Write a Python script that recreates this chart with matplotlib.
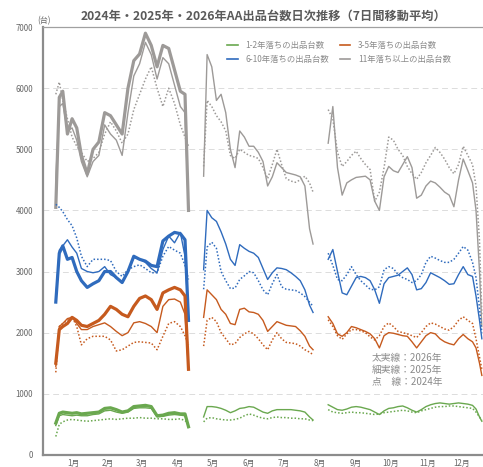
import matplotlib
matplotlib.use('Agg')

import matplotlib.pyplot as plt
from matplotlib.lines import Line2D

plt.rcParams['font.family'] = ['Noto Sans CJK JP', 'DejaVu Sans']

# days of year for each block (gaps: GW, Obon)
days_s1 = [0, 3, 6, 10, 14, 18, 22, 27, 32, 37, 42, 47, 52, 57, 62, 67, 72, 77, 82, 87, 92, 97, 102, 107, 111, 114]
days_s2 = [127, 130, 134, 138, 142, 146, 150, 154, 158, 162, 166, 170, 174, 178, 182, 186, 190, 194, 198, 202, 206, 210, 214, 218, 221]
days_s3 = [234, 238, 242, 246, 250, 254, 258, 262, 266, 270, 274, 278, 282, 286, 290, 294, 298, 302, 306, 310, 314, 318,
           322, 326, 330, 334, 338, 342, 346, 350, 354, 358, 361, 364, 366]

# 11年落ち以上 (gray)
gray_2026_s1 = [4050, 5850, 5950, 5250, 5500, 5350, 4900, 4600, 5000, 5120, 5600, 5550, 5400, 5250, 6000, 6450, 6560, 6900, 6700, 6350, 6700, 6650, 6300, 5950, 5900, 4000]
gray_2025_s1 = [4500, 5700, 5750, 5300, 5350, 5150, 4800, 4550, 4800, 4900, 5400, 5250, 5150, 4900, 5600, 6200, 6400, 6750, 6550, 6150, 6500, 6400, 6050, 5700, 5600, 4000]
gray_2024_s1 = [5900, 6100, 5800, 5500, 5200, 5050, 4950, 4800, 4850, 4950, 5250, 5450, 5300, 5100, 5250, 5650, 5900, 6150, 6350, 6000, 5700, 6000, 5750, 5400, 5200, 5050]
gray_2025_s2 = [4560, 6550, 6350, 5800, 5900, 5600, 5000, 4700, 5300, 5200, 5050, 5050, 4950, 4800, 4400, 4550, 4780, 4700, 4620, 4600, 4580, 4550, 4400, 3700, 3450]
gray_2024_s2 = [4720, 5800, 5700, 5550, 5450, 5300, 4900, 4850, 5000, 4950, 4900, 4880, 4850, 4700, 4520, 4750, 5000, 4750, 4520, 4480, 4460, 4500, 4560, 4450, 4300]
gray_2025_s3 = [5100, 5700, 4700, 4250, 4450, 4500, 4540, 4550, 4560, 4500, 4150, 4000, 4550, 4720, 4650, 4620, 4750, 4880, 4700, 4200, 4250, 4400,
                4480, 4450, 4380, 4300, 4250, 4060, 4500, 4840, 4650, 4450, 4000, 3000, 2100]
gray_2024_s3 = [5650, 5500, 4950, 4720, 4800, 4900, 4970, 4850, 4750, 4670, 4150, 4300, 4700, 5200, 5150, 5000, 4900, 4720, 4600, 4510, 4620, 4780,
                4900, 5030, 4950, 4840, 4700, 4600, 4750, 5050, 4900, 4750, 4400, 3500, 2300]

# 6-10年落ち (blue)
blue_2026_s1 = [2500, 3300, 3420, 3200, 3230, 3000, 2850, 2740, 2800, 2850, 3000, 3000, 2900, 2820, 3000, 3250, 3200, 3170, 3100, 3080, 3500, 3580, 3640, 3620, 3520, 2200]
blue_2025_s1 = [2550, 3350, 3420, 3520, 3400, 3300, 3050, 3000, 2980, 3000, 3080, 2950, 2900, 2820, 3000, 3230, 3200, 3150, 3050, 2980, 3360, 3580, 3470, 3640, 3250, 2260]
blue_2024_s1 = [4100, 4050, 3980, 3850, 3750, 3550, 3250, 3080, 3200, 3200, 3200, 3180, 3000, 2920, 3030, 3080, 3110, 3050, 2980, 2980, 3250, 3410, 3350, 3300, 3100, 2870]
blue_2025_s2 = [3030, 4000, 3880, 3820, 3650, 3450, 3200, 3100, 3440, 3380, 3330, 3300, 3230, 3050, 2870, 2980, 3060, 3050, 3030, 2980, 2920, 2850, 2700, 2450, 2330]
blue_2024_s2 = [2710, 3400, 3480, 3380, 3000, 2850, 2720, 2730, 2870, 2930, 3000, 2980, 2850, 2700, 2620, 2800, 2950, 2750, 2710, 2700, 2690, 2650, 2590, 2500, 2430]
blue_2025_s3 = [3200, 3360, 3000, 2650, 2620, 2760, 2900, 2920, 2900, 2850, 2700, 2480, 2800, 2900, 2920, 2940, 3000, 3060, 2950, 2700, 2720, 2820,
                2980, 2940, 2900, 2850, 2790, 2800, 2950, 3080, 2950, 2920, 2600, 2200, 1900]
blue_2024_s3 = [3300, 3100, 2870, 2850, 2950, 3080, 2950, 2850, 2780, 2710, 2700, 2750, 3030, 3080, 3050, 2950, 2900, 2870, 2820, 2850, 2950, 3150,
                3250, 3220, 3180, 3150, 3150, 3200, 3300, 3410, 3350, 3150, 2900, 2400, 2000]

# 3-5年落ち (orange)
orange_2026_s1 = [1500, 2050, 2100, 2150, 2250, 2200, 2120, 2100, 2150, 2200, 2300, 2430, 2380, 2300, 2260, 2430, 2560, 2600, 2540, 2380, 2650, 2700, 2740, 2700, 2600, 1400]
orange_2025_s1 = [1450, 2100, 2150, 2230, 2250, 2150, 2050, 2050, 2100, 2130, 2160, 2100, 2020, 1950, 2000, 2160, 2180, 2150, 2100, 2000, 2430, 2540, 2550, 2500, 2300, 1400]
orange_2024_s1 = [1350, 2100, 2150, 2200, 2260, 2100, 1800, 1900, 1940, 1940, 1940, 1880, 1700, 1720, 1780, 1840, 1850, 1840, 1830, 1720, 1940, 2150, 2180, 2100, 1950, 1800]
orange_2025_s2 = [2250, 2700, 2620, 2540, 2380, 2300, 2150, 2130, 2380, 2400, 2340, 2330, 2300, 2200, 2020, 2100, 2180, 2150, 2120, 2110, 2100, 2030, 1940, 1780, 1720]
orange_2024_s2 = [1780, 2200, 2250, 2180, 2000, 1900, 1800, 1820, 1920, 1980, 2020, 1980, 1900, 1800, 1720, 1880, 2000, 1900, 1840, 1830, 1820, 1780, 1720, 1680, 1640]
orange_2025_s3 = [2260, 2150, 1980, 1940, 2000, 2100, 2080, 2050, 2020, 1980, 1900, 1750, 1950, 2000, 1990, 1970, 1950, 1940, 1850, 1750, 1850, 1950,
                  2000, 1980, 1900, 1850, 1820, 1800, 1900, 1970, 1900, 1850, 1750, 1500, 1300]
orange_2024_s3 = [2210, 2100, 1950, 1890, 1980, 2050, 2050, 2030, 2000, 1930, 1880, 1950, 2100, 2160, 2100, 2020, 2000, 1980, 1950, 1920, 2000, 2100,
                  2160, 2140, 2100, 2060, 2040, 2100, 2200, 2260, 2200, 2150, 1900, 1600, 1400]

# 1-2年落ち (green)
green_2026_s1 = [520, 680, 700, 690, 680, 690, 670, 680, 690, 700, 760, 770, 740, 700, 720, 790, 800, 810, 790, 640, 650, 680, 690, 670, 670, 460]
green_2025_s1 = [480, 640, 660, 650, 640, 650, 640, 640, 660, 670, 720, 730, 700, 680, 700, 760, 770, 770, 760, 620, 630, 650, 660, 650, 640, 450]
green_2024_s1 = [300, 500, 540, 570, 580, 570, 560, 550, 560, 570, 580, 590, 580, 590, 600, 600, 610, 600, 600, 590, 590, 580, 580, 590, 560, 520]
green_2025_s2 = [620, 790, 790, 780, 760, 730, 690, 720, 760, 770, 790, 780, 740, 700, 680, 720, 740, 740, 740, 740, 730, 720, 700, 620, 570]
green_2024_s2 = [540, 600, 610, 590, 580, 570, 570, 580, 600, 640, 670, 650, 620, 600, 590, 610, 620, 610, 610, 600, 600, 590, 590, 570, 560]
green_2025_s3 = [820, 780, 740, 730, 750, 780, 790, 780, 760, 740, 700, 660, 720, 760, 770, 790, 800, 770, 730, 700, 740, 790,
                 820, 840, 850, 840, 830, 840, 850, 840, 830, 810, 750, 620, 550]
green_2024_s3 = [740, 700, 690, 680, 690, 700, 690, 690, 680, 670, 660, 670, 690, 700, 710, 720, 730, 720, 700, 690, 720, 740,
                 760, 780, 790, 790, 800, 800, 790, 780, 770, 760, 700, 620, 560]

month_labels = ['1月', '2月', '3月', '4月', '5月', '6月', '7月', '8月', '9月', '10月', '11月', '12月']
month_mid = [15, 45, 74, 105, 135, 166, 196, 227, 258, 288, 319, 349]
legend_labels = ['1-2年落ちの出品台数', '3-5年落ちの出品台数', '6-10年落ちの出品台数', '11年落ち以上の出品台数']

c_green = '#6aa84f'
c_orange = '#c65a1e'
c_blue = '#2f6bbd'
c_gray = '#9d9a98'
txt = '#666666'

fig = plt.figure(figsize=(4.83, 4.67), dpi=100)
ax = fig.add_axes([0.089, 0.026, 0.911, 0.916])

def draw(days, vals, color, kind):
    if kind == 'thick':
        ax.plot(days, vals, color=color, lw=2.3, solid_joinstyle='round')
    elif kind == 'thin':
        ax.plot(days, vals, color=color, lw=1.0)
    else:
        ax.plot(days, vals, color=color, lw=1.1, linestyle=(0, (1, 1.3)))

groups = [
    (c_gray, gray_2026_s1, gray_2025_s1, gray_2024_s1, gray_2025_s2, gray_2024_s2, gray_2025_s3, gray_2024_s3),
    (c_blue, blue_2026_s1, blue_2025_s1, blue_2024_s1, blue_2025_s2, blue_2024_s2, blue_2025_s3, blue_2024_s3),
    (c_orange, orange_2026_s1, orange_2025_s1, orange_2024_s1, orange_2025_s2, orange_2024_s2, orange_2025_s3, orange_2024_s3),
    (c_green, green_2026_s1, green_2025_s1, green_2024_s1, green_2025_s2, green_2024_s2, green_2025_s3, green_2024_s3),
]
for c, a26, a25, a24, b25, b24, d25, d24 in groups:
    draw(days_s1, a24, c, 'dot')
    draw(days_s2, b24, c, 'dot')
    draw(days_s3, d24, c, 'dot')
    draw(days_s1, a25, c, 'thin')
    draw(days_s2, b25, c, 'thin')
    draw(days_s3, d25, c, 'thin')
    draw(days_s1, a26, c, 'thick')

ax.set_xlim(-11, 367)
ax.set_ylim(0, 7000)
ax.set_yticks(range(0, 7001, 1000))
ax.set_xticks(month_mid)
ax.set_xticklabels(month_labels)
ax.tick_params(axis='both', length=0, labelsize=5.7, colors=txt)
ax.tick_params(axis='y', pad=7)
ax.tick_params(axis='x', pad=3)
ax.grid(axis='y', color='#dcdcdc', lw=0.7, linestyle=(0, (6, 4)))
ax.set_axisbelow(True)
for s in ['left', 'bottom']:
    ax.spines[s].set_color('#8c8c8c')
    ax.spines[s].set_linewidth(1.6)
ax.spines['top'].set_color('#a0a0a0')
ax.spines['top'].set_linewidth(0.9)
ax.spines['right'].set_visible(False)

fig.text(0.545, 0.966, '2024年・2025年・2026年AA出品台数日次推移（7日間移動平均）',
         ha='center', va='center', fontsize=8.8, color='#5a5a5a', fontweight='bold')
fig.text(0.077, 0.956, '(台)', fontsize=5.8, color=txt, va='center')

# ncol=2 fills by column: order so rows read green/orange, blue/gray
handles = [Line2D([], [], color=c, lw=1.2) for c in (c_green, c_blue, c_orange, c_gray)]
labels = [legend_labels[0], legend_labels[2], legend_labels[1], legend_labels[3]]
leg = ax.legend(handles, labels, ncol=2, loc='upper left', bbox_to_anchor=(0.41, 0.975),
                fontsize=6, frameon=False, handlelength=1.3, columnspacing=1.3, labelspacing=0.55,
                handletextpad=0.9, borderaxespad=0)
for t in leg.get_texts():
    t.set_color('#8a8a8a')

ax.text(0.748, 0.238, '太実線：2026年\n細実線：2025年\n点　線：2024年', transform=ax.transAxes,
        fontsize=7, color='#8a8a8a', va='top', linespacing=1.25)

fig.savefig('out.png', dpi=100)
